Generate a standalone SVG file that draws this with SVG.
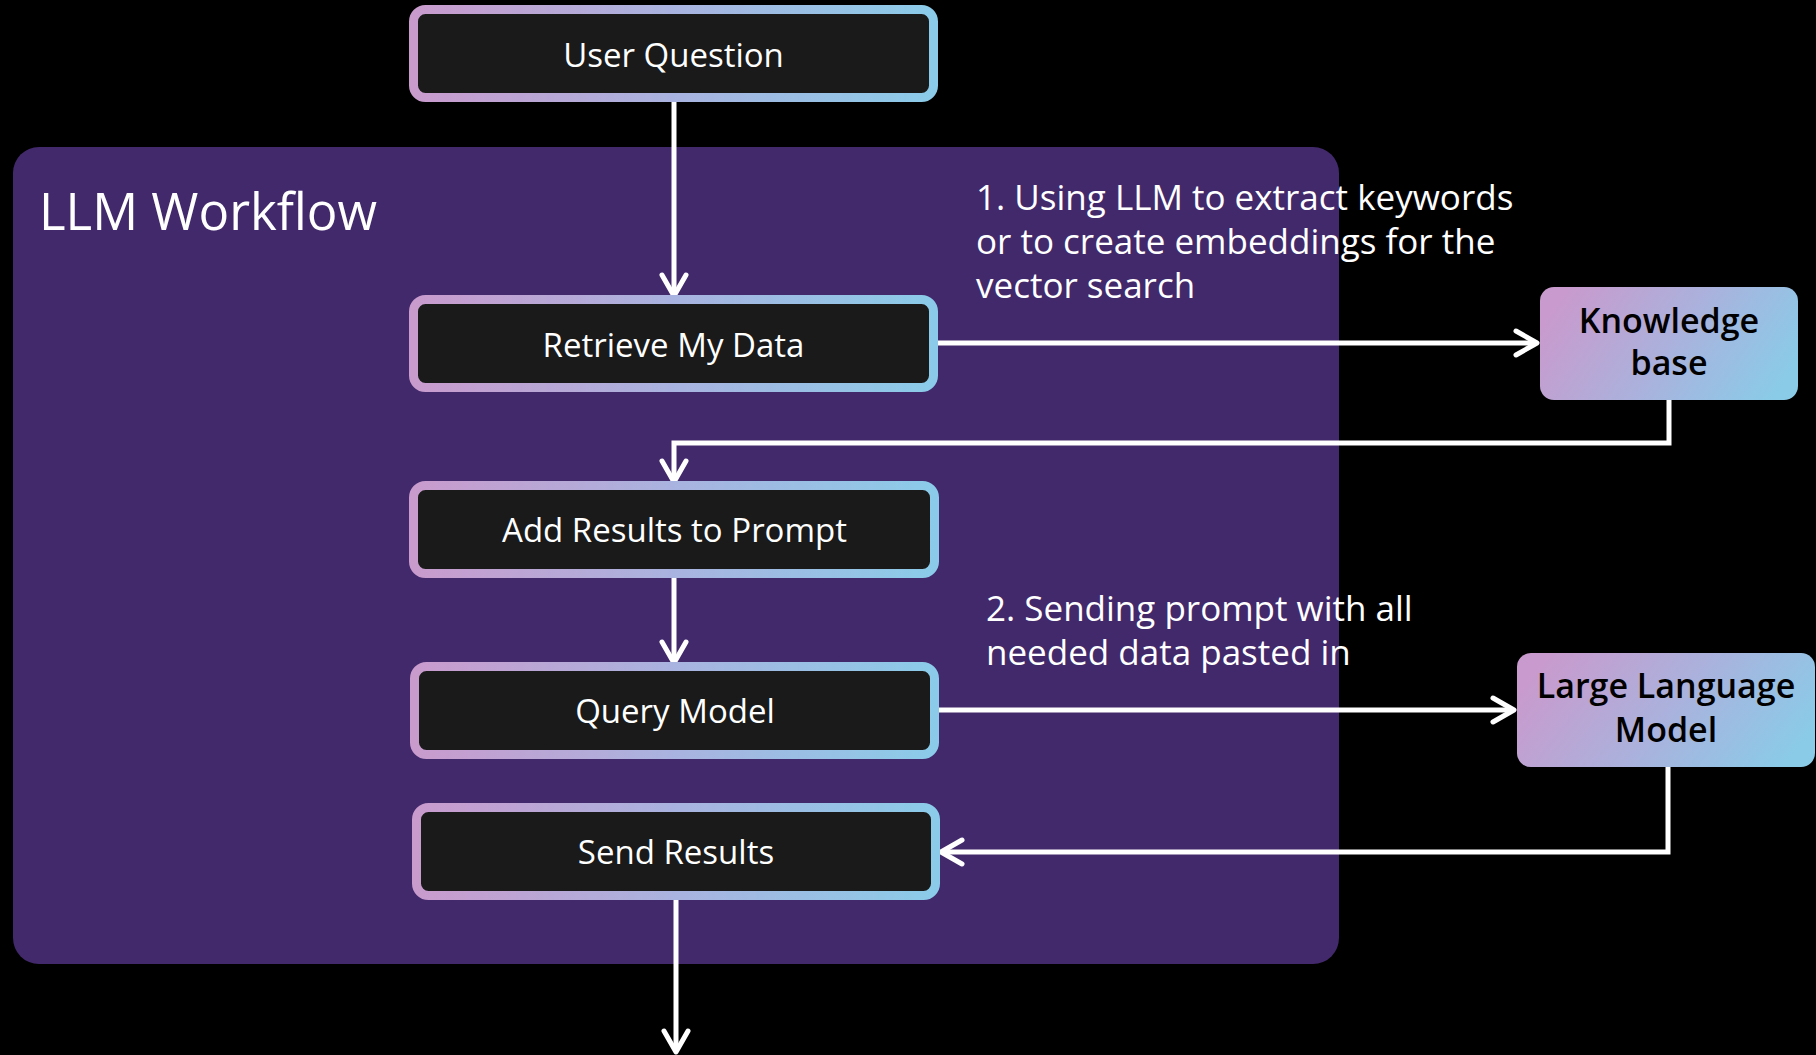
<svg xmlns="http://www.w3.org/2000/svg" width="1816" height="1055" viewBox="0 0 1816 1055">
  <defs>
    <linearGradient id="edge" x1="0" y1="0" x2="1" y2="0">
      <stop offset="0" stop-color="#c99bcd"/>
      <stop offset="0.5" stop-color="#a9b3df"/>
      <stop offset="1" stop-color="#8bcbe9"/>
    </linearGradient>
    <linearGradient id="tint" x1="0" y1="0.35" x2="1" y2="0.65">
      <stop offset="0" stop-color="#c99acd"/>
      <stop offset="0.5" stop-color="#abb1dc"/>
      <stop offset="1" stop-color="#8acbe8"/>
    </linearGradient>
    <marker id="chev" markerUnits="userSpaceOnUse" markerWidth="40" markerHeight="40" viewBox="-30 -20 40 40" refX="0" refY="0" orient="auto">
      <path d="M -21 -12 L 0 0 L -21 12" fill="none" stroke="#ffffff" stroke-width="5" stroke-linecap="round" stroke-linejoin="round"/>
    </marker>
    <style>
      .step rect { fill: #1a1a1a; stroke: url(#edge); stroke-width: 9; }
      .step text { fill: #ffffff; font-family: "Open Sans", "Noto Sans", sans-serif; font-size: 33px; text-anchor: middle; }
      .store rect { fill: url(#tint); }
      .store text { fill: #000000; font-family: "Open Sans", "Noto Sans", sans-serif; font-size: 34px; font-weight: 600; text-anchor: middle; }
      .note { fill: #ffffff; font-family: "Open Sans", "Noto Sans", sans-serif; font-size: 35px; }
      .wire { fill: none; stroke: #ffffff; stroke-width: 5; marker-end: url(#chev); }
    </style>
  </defs>

  <rect x="0" y="0" width="1816" height="1055" fill="#000000"/>

  <!-- workflow container -->
  <g id="workflow">
    <rect x="13" y="147" width="1326" height="817" rx="26" fill="#42296b"/>
    <text x="39" y="230" fill="#ffffff" font-family="'Open Sans', 'Noto Sans', sans-serif" font-size="51">LLM Workflow</text>
  </g>

  <!-- annotations -->
  <g id="note-retrieval">
    <text class="note" x="976" y="210">1. Using LLM to extract keywords</text>
    <text class="note" x="976" y="254">or to create embeddings for the</text>
    <text class="note" x="976" y="298">vector search</text>
  </g>
  <g id="note-prompt">
    <text class="note" x="986" y="621">2. Sending prompt with all</text>
    <text class="note" x="986" y="665">needed data pasted in</text>
  </g>

  <!-- connectors -->
  <g id="connectors">
    <path class="wire" d="M 674 102 V 296"/>
    <path class="wire" d="M 938 343 H 1537"/>
    <path class="wire" d="M 1669 400 V 443 H 674 V 482"/>
    <path class="wire" d="M 674 578 V 663"/>
    <path class="wire" d="M 938 710 H 1514"/>
    <path class="wire" d="M 1668 767 V 852 H 941"/>
    <path class="wire" d="M 676 900 V 1052"/>
  </g>

  <!-- steps -->
  <g id="user-question" class="step">
    <rect x="413.5" y="9.5" width="520" height="88" rx="12"/>
    <text x="673.5" y="67">User Question</text>
  </g>
  <g id="retrieve-data" class="step">
    <rect x="413.5" y="299.5" width="520" height="88" rx="12"/>
    <text x="673.5" y="357">Retrieve My Data</text>
  </g>
  <g id="add-results" class="step">
    <rect x="413.5" y="485.5" width="521" height="88" rx="12"/>
    <text x="674.5" y="542">Add Results to Prompt</text>
  </g>
  <g id="query-model" class="step">
    <rect x="414.5" y="666.5" width="520" height="88" rx="12"/>
    <text x="675" y="723">Query Model</text>
  </g>
  <g id="send-results" class="step">
    <rect x="416.5" y="807.5" width="519" height="88" rx="12"/>
    <text x="676" y="864">Send Results</text>
  </g>

  <!-- external stores -->
  <g id="knowledge-base" class="store">
    <rect x="1540" y="287" width="258" height="113" rx="14"/>
    <text x="1669" y="333">Knowledge</text>
    <text x="1669" y="375">base</text>
  </g>
  <g id="large-language-model" class="store">
    <rect x="1517" y="653" width="298" height="114" rx="14"/>
    <text x="1666" y="698">Large Language</text>
    <text x="1666" y="742">Model</text>
  </g>
</svg>
